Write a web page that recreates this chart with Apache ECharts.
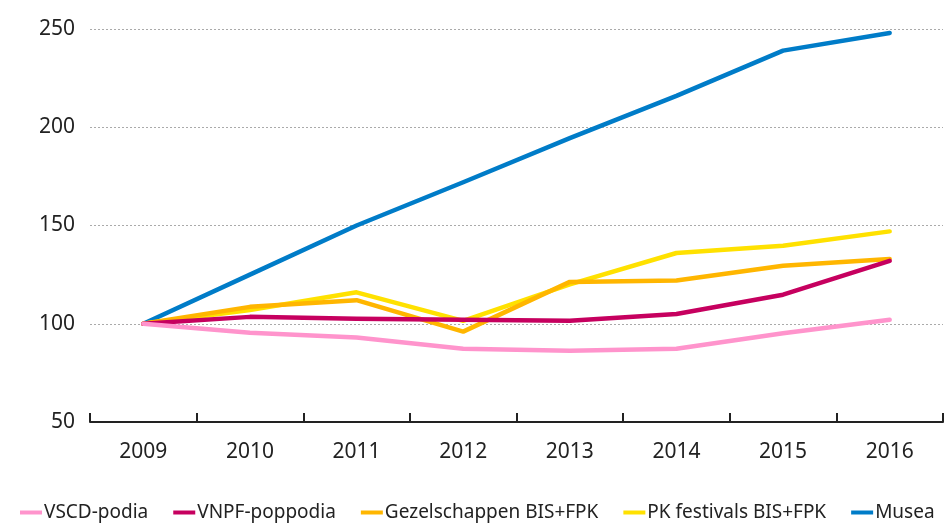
<!DOCTYPE html>
<html>
<head>
<meta charset="utf-8">
<script src="https://cdn.jsdelivr.net/npm/echarts@6/dist/echarts.min.js"></script>
<style>
    html, body { margin: 0; padding: 0; background: #fff; }
    #chart { width: 950px; height: 524px; }
</style>
</head>
<body>
<div id="chart"></div>
<script>
const years = ["2009", "2010", "2011", "2012", "2013", "2014", "2015", "2016"];

const vscdPodia = [100, 95.4, 93, 87.3, 86.3, 87.3, 95.2, 102];
const vnpfPoppodia = [100, 103.5, 102.5, 102, 101.5, 105, 114.8, 132];
const gezelschappen = [100, 108.6, 112, 96, 121.3, 122, 129.5, 133];
const pkFestivals = [100, 107, 116, 101.5, 120, 136, 139.7, 147];
const musea = [100, 125, 150, 172, 194.5, 216, 239, 248];

const yTicks = [50, 100, 150, 200, 250];

const chart = echarts.init(document.getElementById("chart"));
const font = "'Noto Sans', sans-serif";

function lineSeries(name, data, color, z) {
    return {
        name: name,
        type: "line",
        data: data,
        z: z,
        symbol: "none",
        lineStyle: { color: color, width: 4.5, cap: "round", join: "round" },
        itemStyle: { color: color }
    };
}

chart.setOption({
    animation: false,
    textStyle: { fontFamily: font },
    grid: { left: 90, right: 7, top: 29, bottom: 102 },
    legend: {
        left: 15,
        bottom: -3,
        width: 945,
        itemWidth: 22,
        itemHeight: 4,
        itemGap: 25,
        icon: "rect",
        textStyle: { fontSize: 19, color: "#222", fontFamily: font, padding: [0, 0, 0, -3] },
        data: ["VSCD-podia", "VNPF-poppodia", "Gezelschappen BIS+FPK", "PK festivals BIS+FPK", "Musea"]
    },
    xAxis: {
        type: "category",
        data: years,
        boundaryGap: true,
        axisLine: { lineStyle: { color: "#222", width: 2 } },
        axisTick: { show: true, inside: true, length: 9, interval: 0, lineStyle: { color: "#222", width: 2 } },
        axisLabel: { fontSize: 21, color: "#222", margin: 20 }
    },
    yAxis: {
        type: "value",
        min: yTicks[0],
        max: yTicks[yTicks.length - 1],
        interval: 50,
        axisLine: { show: false },
        axisTick: { show: false },
        axisLabel: { fontSize: 21, color: "#222", margin: 15 },
        splitLine: { lineStyle: { color: "#aaa", type: [2, 2], width: 1 } }
    },
    series: [
        lineSeries("VSCD-podia", vscdPodia, "#ff94cc", 6),
        lineSeries("VNPF-poppodia", vnpfPoppodia, "#c6005f", 5),
        lineSeries("Gezelschappen BIS+FPK", gezelschappen, "#ffb600", 4),
        lineSeries("PK festivals BIS+FPK", pkFestivals, "#ffe100", 3),
        lineSeries("Musea", musea, "#007cc8", 2)
    ]
});
</script>
</body>
</html>
